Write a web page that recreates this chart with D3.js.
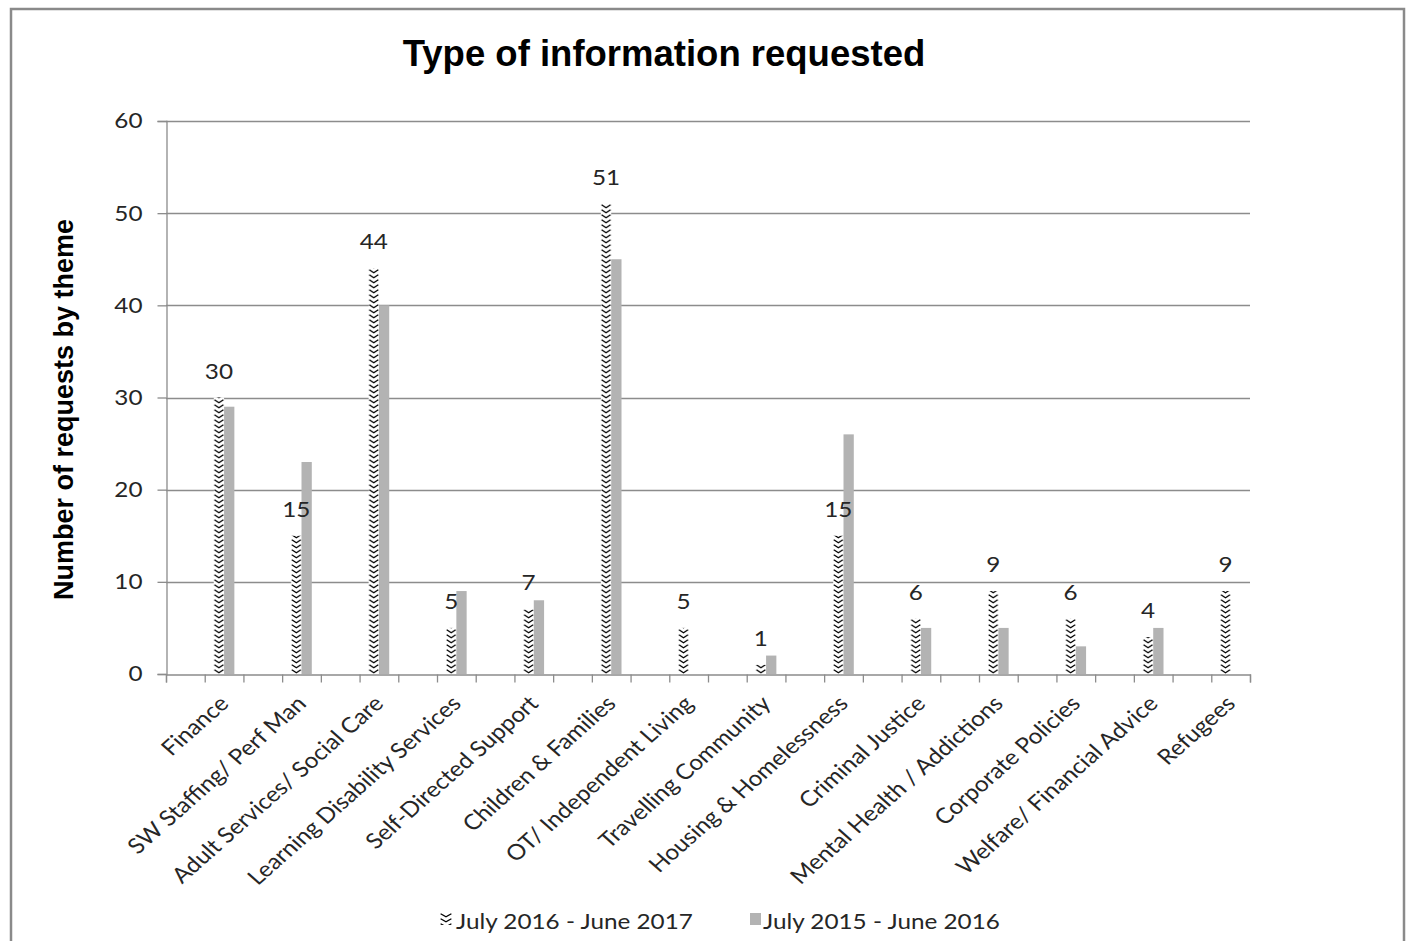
<!DOCTYPE html>
<html>
<head>
<meta charset="utf-8">
<script src="https://cdn.jsdelivr.net/npm/d3@7"></script>
<style>
  html, body { margin: 0; padding: 0; background: #fff; }
  svg { display: block; }
</style>
</head>
<body>
<svg id="chart" width="1413" height="941"></svg>
<script>
// Information request themes and counts per reporting year
const categories = [
  "Finance", "SW Staffing/ Perf Man", "Adult Services/ Social Care",
  "Learning Disability Services", "Self-Directed Support", "Children & Families",
  "OT/ Independent Living", "Travelling Community", "Housing & Homelessness",
  "Criminal Justice", "Mental Health / Addictions", "Corporate Policies",
  "Welfare/ Financial Advice", "Refugees"
];
const seriesNames = ["July 2016 - June 2017", "July 2015 - June 2016"];
const current = [30, 15, 44, 5, 7, 51, 5, 1, 15, 6, 9, 6, 4, 9];
const previous = [29, 23, 40, 9, 8, 45, 0, 2, 26, 5, 5, 3, 5, 0];
const yTicks = [0, 10, 20, 30, 40, 50, 60];

const svg = d3.select("#chart");
const plot = { left: 166, right: 1250, top: 121, bottom: 674 };
const labelFont = "Lato, 'Open Sans', sans-serif";
const labelSize = 21.5;
const wide = "scale(1.13,1)";   // slightly widened body text
const textColor = "#262626";
const grid = "#8c8c8c";

// Outer frame
svg.append("rect")
  .attr("x", 11).attr("y", 9)
  .attr("width", 1393).attr("height", 960)
  .attr("fill", "none").attr("stroke", "#8a8a8a").attr("stroke-width", 2.5);

// Each theme sits in every second slot, with an empty slot before it
const slots = [];
categories.forEach((c, i) => { slots.push("gap" + i); slots.push(c); });
const x = d3.scaleBand().domain(slots).range([plot.left, plot.right]).padding(0);
const xSub = d3.scaleBand().domain(seriesNames).range([0, x.bandwidth()])
  .paddingInner(0).paddingOuter(0.88);
const y = d3.scaleLinear().domain([0, 60]).range([plot.bottom, plot.top]);

// Gridlines
svg.append("g").selectAll("line")
  .data(yTicks.filter(d => d > 0))
  .join("line")
  .attr("x1", plot.left).attr("x2", plot.right)
  .attr("y1", d => Math.round(y(d)) + 0.5).attr("y2", d => Math.round(y(d)) + 0.5)
  .attr("stroke", grid).attr("stroke-width", 1.3);

// Y axis
const yAxis = svg.append("g")
  .attr("transform", `translate(${plot.left + 0.5},0)`)
  .call(d3.axisLeft(y).tickValues(yTicks).tickSize(9).tickPadding(15));
yAxis.select(".domain").attr("stroke", grid).attr("stroke-width", 1.3);
yAxis.selectAll(".tick line").attr("stroke", grid).attr("stroke-width", 1.3);
yAxis.selectAll(".tick text")
  .attr("x", 0)
  .attr("transform", `translate(-24,0) ${wide}`)
  .attr("font-family", labelFont).attr("font-size", labelSize).attr("fill", textColor);

// X axis: tick marks at every slot boundary
const xEdge = d3.scaleLinear().domain([0, slots.length]).range([plot.left, plot.right]);
const xAxis = svg.append("g")
  .attr("transform", `translate(0,${Math.round(y(0)) + 0.5})`)
  .call(d3.axisBottom(xEdge).tickValues(d3.range(0, slots.length + 1))
    .tickSize(8).tickFormat(""));
xAxis.select(".domain").attr("stroke", grid).attr("stroke-width", 1.3);
xAxis.selectAll(".tick line").attr("stroke", grid).attr("stroke-width", 1.3);

// Zig-zag fill for the current year, one pattern per bar so it lines up
const defs = svg.append("defs");
function zigzag(id, x0, y0, w) {
  const p = defs.append("pattern")
    .attr("id", id).attr("patternUnits", "userSpaceOnUse")
    .attr("x", x0).attr("y", y0).attr("width", w).attr("height", 5);
  p.append("rect").attr("width", w).attr("height", 5).attr("fill", "#fff");
  p.append("path")
    .attr("d", `M0.6,0.8 L${w / 2},3.8 L${w - 0.6},0.8`)
    .attr("fill", "none").attr("stroke", "#000").attr("stroke-width", 1.3);
}

const rows = categories.map((c, i) => ({ cat: c, cur: current[i], prev: previous[i] }));
const bw = xSub.bandwidth();

rows.forEach((r, i) => {
  zigzag("zz" + i, x(r.cat) + xSub(seriesNames[0]), y(0), bw);
});

const bars = svg.append("g");
bars.selectAll("rect.cur")
  .data(rows)
  .join("rect")
  .attr("class", "cur")
  .attr("x", d => x(d.cat) + xSub(seriesNames[0]))
  .attr("y", d => y(d.cur))
  .attr("width", bw)
  .attr("height", d => y(0) - y(d.cur))
  .attr("fill", (d, i) => `url(#zz${i})`);

bars.selectAll("rect.prev")
  .data(rows)
  .join("rect")
  .attr("class", "prev")
  .attr("x", d => x(d.cat) + xSub(seriesNames[1]))
  .attr("y", d => y(d.prev))
  .attr("width", bw)
  .attr("height", d => y(0) - y(d.prev))
  .attr("fill", "#b3b3b3");

// Value labels for the current year
svg.append("g").selectAll("text")
  .data(rows)
  .join("text")
  .attr("transform", d =>
    `translate(${x(d.cat) + xSub(seriesNames[0]) + bw / 2},${y(d.cur) - 19}) ${wide}`)
  .attr("text-anchor", "middle")
  .attr("font-family", labelFont).attr("font-size", labelSize).attr("fill", textColor)
  .text(d => d.cur);

// Category labels, slanted up to the right
svg.append("g").selectAll("text")
  .data(categories)
  .join("text")
  .attr("transform", d =>
    `translate(${x(d) + x.bandwidth() / 2 + 6},${plot.bottom + 31}) ${wide} rotate(-45)`)
  .attr("text-anchor", "end")
  .attr("font-family", labelFont).attr("font-size", labelSize).attr("fill", textColor)
  .text(d => d);

// Title
svg.append("text")
  .attr("x", 664).attr("y", 66)
  .attr("text-anchor", "middle")
  .attr("font-family", "'Liberation Sans', Arial, sans-serif")
  .attr("font-weight", "bold").attr("font-size", 36.5).attr("fill", "#000")
  .text("Type of information requested");

// Y axis title
svg.append("text")
  .attr("transform", `translate(73,${(plot.top + plot.bottom) / 2 + 12}) rotate(-90)`)
  .attr("text-anchor", "middle")
  .attr("font-family", "'Liberation Sans', Arial, sans-serif")
  .attr("font-weight", "bold").attr("font-size", 27).attr("fill", "#000")
  .text("Number of requests by theme");

// Legend
const legend = svg.append("g");
zigzag("zzLegend", 440, 913, 12);
legend.append("rect")
  .attr("x", 440).attr("y", 913).attr("width", 12).attr("height", 12)
  .attr("fill", "url(#zzLegend)");
legend.append("text")
  .attr("transform", `translate(456,929) ${wide}`)
  .attr("font-family", labelFont).attr("font-size", labelSize).attr("fill", textColor)
  .text(seriesNames[0]);
legend.append("rect")
  .attr("x", 750).attr("y", 913).attr("width", 11).attr("height", 12)
  .attr("fill", "#b3b3b3");
legend.append("text")
  .attr("transform", `translate(763,929) ${wide}`)
  .attr("font-family", labelFont).attr("font-size", labelSize).attr("fill", textColor)
  .text(seriesNames[1]);
</script>
</body>
</html>
